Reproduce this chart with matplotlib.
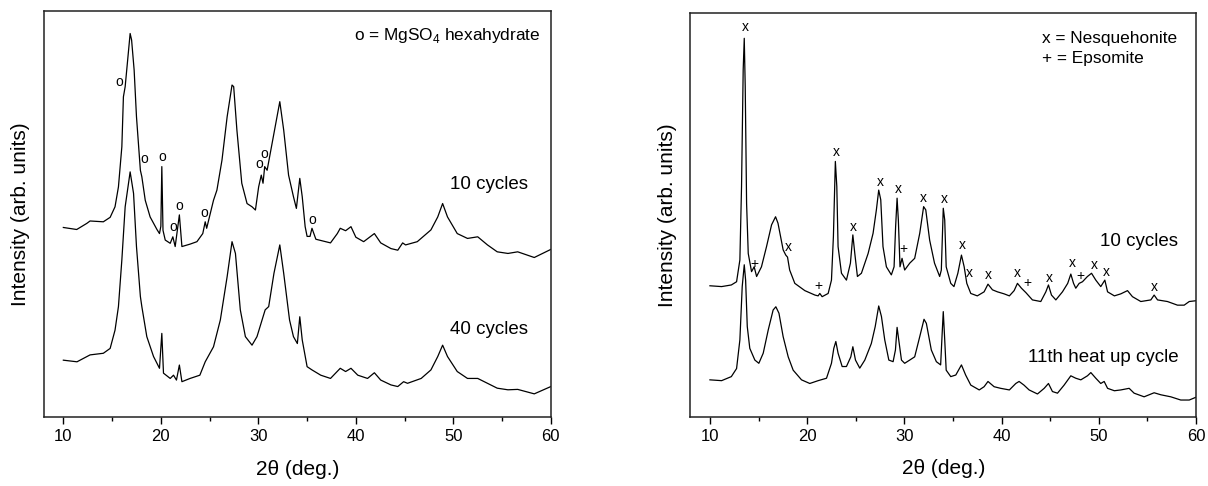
#!/usr/bin/env python3
"""
XRD patterns of the two composite samples after cycling.
Left: MgSO4 hexahydrate sample (10 vs 40 cycles).
Right: nesquehonite / epsomite sample (10 cycles vs 11th heat up cycle).
"""

import matplotlib
matplotlib.use("Agg")
import matplotlib.pyplot as plt
from matplotlib.ticker import MultipleLocator

plt.rcParams["font.family"] = ["Liberation Sans", "DejaVu Sans"]
plt.rcParams["mathtext.fontset"] = "custom"
plt.rcParams["mathtext.rm"] = "Liberation Sans"

# ── Left panel: 10 cycles (intensity in % of panel height) ─────────────────
L10_X = [10.0, 11.37, 12.4, 12.74, 14.1, 14.8, 15.3, 15.65, 16.0, 16.16, 16.34, 16.85,
         17.0, 17.26, 17.5, 17.9, 18.05, 18.4, 18.9, 19.6, 19.86, 20.0, 20.1, 20.22,
         20.45, 20.96, 21.23, 21.47, 21.9, 22.16, 23.0, 23.7, 24.3, 24.55, 24.7, 25.4,
         25.75, 26.27, 26.8, 27.3, 27.47, 27.8, 28.3, 28.84, 29.35, 29.7, 30.03, 30.3,
         30.48, 30.65, 30.9, 31.6, 32.2, 32.6, 33.1, 33.6, 33.9, 34.25, 34.5, 34.8,
         35.0, 35.3, 35.5, 35.9, 37.4, 38.1, 38.4, 38.95, 39.5, 40.0, 40.8, 41.9,
         42.55, 43.6, 44.3, 44.8, 45.1, 46.3, 47.7, 48.4, 48.9, 49.4, 50.4, 51.45,
         52.5, 53.5, 54.5, 55.6, 56.6, 58.3, 60.0]
L10_Y = [46.7, 46.2, 47.7, 48.3, 48.1, 49.2, 51.8, 56.7, 66.6, 78.9, 81.4, 94.5,
         92.9, 85.5, 74.0, 60.8, 59.2, 53.4, 49.3, 46.2, 45.2, 47.0, 61.7, 46.0,
         43.6, 42.8, 44.4, 42.0, 49.8, 42.0, 42.6, 43.2, 45.2, 48.1, 46.5, 53.4,
         55.9, 63.3, 74.0, 81.8, 81.4, 70.7, 57.6, 52.6, 51.8, 51.0, 56.7, 59.6,
         57.6, 61.7, 60.8, 69.9, 77.7, 70.7, 59.6, 54.3, 51.4, 58.8, 54.3, 46.9,
         44.5, 44.5, 46.5, 43.8, 42.9, 45.2, 46.5, 45.9, 46.9, 44.3, 43.2, 45.2,
         42.9, 41.5, 41.1, 42.9, 42.4, 43.2, 46.1, 49.3, 52.6, 49.3, 45.2, 44.0,
         44.4, 42.4, 40.7, 40.3, 40.7, 39.3, 41.3]

# ── Left panel: 40 cycles ───────────────────────────────────────────────────
L40_X = [10.0, 11.4, 12.74, 14.1, 14.8, 15.3, 15.65, 16.0, 16.34, 16.85, 17.2, 17.5,
         17.9, 18.05, 18.56, 19.25, 19.86, 20.1, 20.27, 20.96, 21.3, 21.6, 21.9, 22.16,
         23.0, 24.0, 24.55, 25.4, 26.1, 26.8, 27.3, 27.65, 28.15, 28.67, 29.35, 29.86,
         30.38, 30.7, 31.06, 31.6, 32.2, 32.6, 33.2, 33.6, 34.0, 34.25, 34.5, 35.0,
         35.5, 36.4, 37.4, 38.4, 38.95, 39.5, 40.2, 41.2, 41.9, 42.55, 43.6, 44.3,
         44.9, 45.3, 46.7, 47.7, 48.4, 48.9, 49.4, 50.4, 51.45, 52.5, 53.5, 54.5,
         55.6, 56.6, 58.3, 60.0]
L40_Y = [14.0, 13.6, 15.3, 15.7, 16.9, 21.4, 27.2, 38.7, 51.8, 60.4, 55.1, 42.0,
         29.7, 27.2, 19.8, 14.9, 12.0, 20.6, 10.8, 9.5, 10.3, 9.1, 12.8, 8.7,
         9.5, 10.3, 13.6, 17.3, 23.9, 34.6, 43.2, 40.3, 26.4, 19.8, 17.7, 19.8,
         23.9, 26.4, 27.2, 35.4, 42.4, 35.4, 23.9, 19.8, 18.1, 24.7, 19.0, 12.4,
         11.6, 10.3, 9.5, 12.0, 11.2, 12.0, 10.3, 9.5, 10.9, 9.1, 7.9, 7.5,
         8.7, 8.3, 9.5, 11.6, 14.9, 17.7, 14.9, 11.2, 9.5, 9.5, 8.3, 7.1,
         6.7, 6.8, 5.7, 7.5]

# ── Right panel: 10 cycles ──────────────────────────────────────────────────
R10_X = [10.0, 11.2, 12.2, 12.74, 13.08, 13.25, 13.42, 13.53, 13.63, 13.77, 13.94, 14.28,
         14.55, 14.8, 15.3, 15.82, 16.34, 16.75, 17.0, 17.53, 17.8, 17.98, 18.2, 18.73,
         19.76, 20.8, 21.13, 21.3, 21.54, 22.16, 22.5, 22.7, 22.9, 23.05, 23.18, 23.53,
         24.04, 24.45, 24.7, 24.9, 25.17, 25.58, 26.27, 26.78, 27.12, 27.36, 27.57, 27.8,
         28.15, 28.66, 28.94, 29.1, 29.25, 29.38, 29.55, 29.76, 30.03, 30.55, 31.06, 31.58,
         31.98, 32.2, 32.6, 33.1, 33.63, 33.8, 34.0, 34.15, 34.3, 34.77, 35.1, 35.5,
         35.87, 36.15, 36.42, 36.83, 37.5, 38.2, 38.6, 39.06, 39.57, 40.26, 40.8, 41.29,
         41.63, 42.04, 42.5, 43.17, 44.03, 44.55, 44.82, 45.13, 45.58, 46.26, 46.8, 47.12,
         47.4, 47.63, 47.98, 48.32, 48.83, 49.25, 49.69, 50.2, 50.62, 50.9, 51.6, 52.26,
         52.95, 53.46, 54.32, 55.35, 55.69, 56.04, 57.06, 58.09, 58.78, 59.3, 60.0]
R10_Y = [32.5, 32.3, 32.7, 33.5, 38.9, 57.1, 86.0, 93.8, 81.8, 52.9, 40.5, 36.0,
         37.2, 34.8, 37.2, 42.2, 47.6, 49.6, 48.0, 41.4, 40.1, 39.6, 36.4, 33.1,
         31.3, 30.2, 30.0, 30.6, 29.8, 30.6, 33.9, 44.7, 63.3, 57.1, 42.2, 35.6,
         33.9, 38.1, 45.1, 40.5, 34.8, 35.6, 40.5, 45.5, 51.3, 56.2, 53.8, 42.2,
         37.2, 35.2, 37.2, 47.2, 54.2, 48.8, 37.2, 39.3, 36.4, 38.1, 39.3, 45.5,
         52.1, 51.3, 43.8, 38.1, 34.8, 36.4, 51.7, 48.8, 37.2, 33.1, 32.3, 35.6,
         40.1, 37.2, 33.1, 30.6, 30.0, 31.0, 32.9, 31.5, 31.0, 30.5, 30.0, 31.3,
         33.1, 31.9, 30.8, 29.0, 28.6, 31.0, 32.7, 30.2, 29.0, 31.0, 33.1, 35.4,
         33.1, 31.9, 33.1, 33.5, 34.8, 35.6, 33.9, 32.3, 33.9, 31.0, 30.0, 30.5,
         31.3, 29.8, 28.6, 29.0, 30.2, 29.0, 28.6, 27.7, 27.7, 28.6, 28.8]

# ── Right panel: 11th heat up cycle ─────────────────────────────────────────
R11_X = [10.0, 11.2, 12.2, 12.74, 13.08, 13.32, 13.53, 13.67, 13.84, 14.1, 14.62, 15.03,
         15.48, 16.0, 16.5, 16.78, 17.1, 17.53, 18.05, 18.56, 19.42, 20.27, 21.13, 21.99,
         22.5, 22.74, 22.95, 23.18, 23.6, 24.04, 24.49, 24.7, 24.97, 25.41, 25.93, 26.6,
         27.0, 27.36, 27.64, 27.98, 28.4, 28.84, 29.08, 29.25, 29.42, 29.7, 30.03, 30.55,
         31.06, 31.58, 32.02, 32.26, 32.77, 33.29, 33.73, 33.87, 34.0, 34.15, 34.3, 34.77,
         35.29, 35.87, 36.3, 36.83, 37.7, 38.2, 38.6, 39.23, 39.9, 40.8, 41.46, 41.8,
         42.3, 42.83, 43.69, 44.38, 44.82, 45.23, 45.75, 46.43, 47.12, 47.63, 48.15, 48.83,
         49.18, 49.69, 50.2, 50.55, 50.9, 51.6, 52.26, 53.12, 53.63, 54.66, 55.69, 56.38,
         57.4, 58.43, 59.3, 60.0]
R11_Y = [9.2, 9.0, 10.0, 12.0, 19.1, 32.3, 37.7, 33.9, 22.4, 17.0, 14.1, 13.3,
         15.8, 21.6, 26.5, 27.3, 25.7, 19.9, 14.9, 11.6, 9.2, 8.3, 9.0, 9.6,
         13.3, 17.0, 18.7, 15.8, 12.5, 12.5, 14.9, 17.4, 14.1, 12.1, 14.1, 18.2,
         22.4, 27.5, 24.9, 19.1, 14.1, 13.7, 16.6, 22.2, 19.1, 14.1, 13.3, 14.1,
         14.9, 19.9, 24.2, 23.2, 16.6, 13.7, 12.9, 19.9, 26.1, 19.1, 11.6, 10.0,
         10.4, 12.9, 10.4, 7.9, 6.7, 7.5, 8.8, 7.5, 7.1, 6.7, 8.3, 8.8,
         7.9, 6.7, 5.7, 7.1, 8.3, 6.3, 5.9, 7.9, 10.2, 9.6, 9.2, 10.2,
         11.0, 9.6, 8.3, 8.8, 7.1, 6.5, 6.7, 7.1, 5.9, 5.0, 6.0, 5.5,
         5.0, 4.2, 4.2, 4.9]

# ── Phase markers (x position, glyph centre height) ─────────────────────────
HEXA_X = [15.75, 18.3, 20.14, 21.3, 21.9, 24.5, 30.07, 30.6, 35.55]
HEXA_Y = [82.6, 63.7, 64.0, 46.9, 52.0, 50.3, 62.3, 64.9, 48.5]

NESQ_X = [13.6, 18.05, 22.98, 24.7, 27.5, 29.35, 32.0, 34.08, 35.94, 36.73, 38.61,
          41.63, 44.92, 47.32, 49.59, 50.82, 55.76]
NESQ_Y = [96.5, 42.0, 65.6, 47.0, 58.1, 56.4, 54.3, 53.9, 42.6, 35.6, 35.2,
          35.6, 34.5, 38.1, 37.7, 35.8, 32.3]

EPSO_X = [14.62, 21.2, 29.93, 42.66, 48.15]
EPSO_Y = [38.2, 32.7, 41.8, 33.4, 35.2]

XTICKS = [10, 20, 30, 40, 50, 60]


def style_axes(ax):
    ax.set_xlim(8, 60)
    ax.set_ylim(0, 100)
    ax.set_xticks(XTICKS)
    ax.xaxis.set_minor_locator(MultipleLocator(5))
    ax.set_yticks([])
    ax.tick_params(axis="x", which="major", direction="out", length=5, width=1,
                   labelsize=12, pad=4)
    ax.tick_params(axis="x", which="minor", direction="out", length=3, width=1)
    for sp in ax.spines.values():
        sp.set_linewidth(1.1)
        sp.set_color("#222222")
    ax.set_xlabel("2θ (deg.)", fontsize=15)
    ax.xaxis.set_label_coords(0.5, -0.105)
    ax.set_ylabel("Intensity (arb. units)", fontsize=15)
    ax.yaxis.set_label_coords(-0.027, 0.5)


def mark(ax, xs, ys, glyph, lift):
    for x, y in zip(xs, ys):
        ax.text(x, y - lift, glyph, ha="center", va="baseline", fontsize=10)


fig = plt.figure(figsize=(12.08, 4.86), dpi=100)
ax1 = fig.add_axes([0.0363, 0.142, 0.4197, 0.835])
ax2 = fig.add_axes([0.5716, 0.142, 0.4185, 0.8307])

# ── Left panel ──────────────────────────────────────────────────────────────
ax1.plot(L10_X, L10_Y, color="black", linewidth=0.9)
ax1.plot(L40_X, L40_Y, color="black", linewidth=0.9)
mark(ax1, HEXA_X, HEXA_Y, "o", 1.0)
ax1.text(53.7, 56.1, "10 cycles", ha="center", va="baseline", fontsize=13.5)
ax1.text(53.7, 20.4, "40 cycles", ha="center", va="baseline", fontsize=13.5)
ax1.text(39.8, 93.0, r"o = MgSO$_\mathrm{4}$ hexahydrate", ha="left", va="baseline",
         fontsize=12.4)
style_axes(ax1)

# ── Right panel ─────────────────────────────────────────────────────────────
ax2.plot(R10_X, R10_Y, color="black", linewidth=0.9)
ax2.plot(R11_X, R11_Y, color="black", linewidth=0.9)
mark(ax2, NESQ_X, NESQ_Y, "x", 1.0)
mark(ax2, EPSO_X, EPSO_Y, "+", 1.2)
ax2.text(54.15, 42.4, "10 cycles", ha="center", va="baseline", fontsize=13.5)
ax2.text(50.5, 13.5, "11th heat up cycle", ha="center", va="baseline", fontsize=13.5)
ax2.text(44.2, 92.7, "x = Nesquehonite", ha="left", va="baseline", fontsize=12.4)
ax2.text(44.2, 87.6, "+ = Epsomite", ha="left", va="baseline", fontsize=12.4)
style_axes(ax2)

fig.savefig("out.png", dpi=100)
